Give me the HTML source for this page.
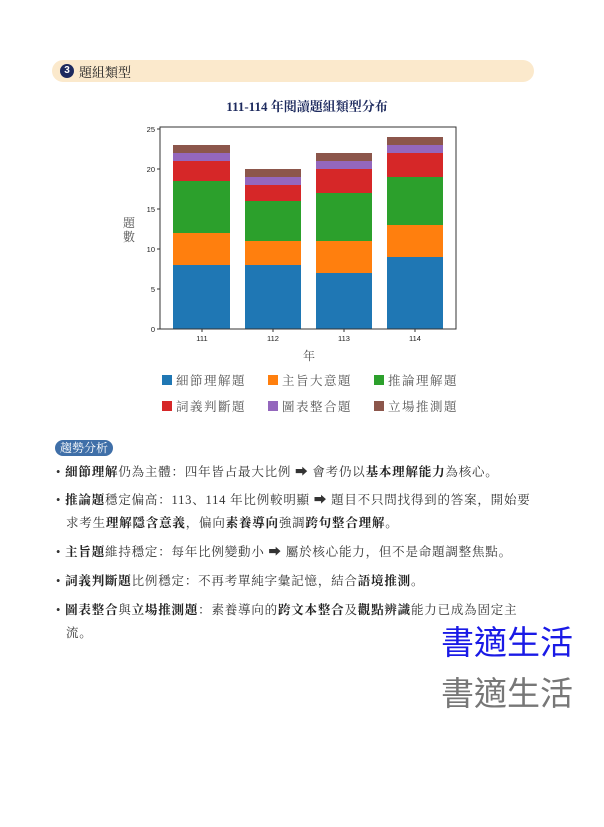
<!DOCTYPE html>
<html><head><meta charset="utf-8"><style>
body{margin:0;width:604px;height:827px;background:#fff;position:relative;overflow:hidden;font-family:"Liberation Serif","Noto Serif CJK SC","Noto Sans CJK TC",serif;}
.hdr{position:absolute;left:52px;top:60px;width:482px;height:22px;background:#fbe9cc;border-radius:11px;}
.num{position:absolute;left:60px;top:64px;width:14px;height:14px;border-radius:50%;background:#1d2a5e;color:#fff;font:bold 10px "Liberation Sans",sans-serif;text-align:center;line-height:14px;}
.ht{position:absolute;left:79px;top:62px;font-size:13px;color:#222;}
.tag{position:absolute;left:55px;top:440px;width:58px;height:16px;background:#3f6fa8;border-radius:8px;color:#fff;font-size:12px;text-align:center;line-height:16px;}
.ln{position:absolute;left:56px;font-size:12.5px;color:#333;white-space:nowrap;letter-spacing:0.8px}
.ln b{color:#222}
.wm{position:absolute;left:441px;font-size:33px;font-family:"Liberation Sans","Noto Sans CJK TC",sans-serif;}
</style></head><body>
<div class="hdr"></div><div class="num">3</div><div class="ht">題組類型</div>
<svg width="604" height="430" style="position:absolute;left:0;top:0" font-family="Liberation Sans, DejaVu Sans, sans-serif">
<text x="307" y="111" text-anchor="middle" font-size="13" font-weight="bold" fill="#1d2a5e" font-family="Liberation Serif, Noto Serif CJK SC, serif">111-114 年閱讀題組類型分布</text>
<g>
<rect x="173" y="265" width="57" height="64" fill="#1f77b4"/><rect x="173" y="233" width="57" height="32" fill="#ff7f0e"/><rect x="173" y="181" width="57" height="52" fill="#2ca02c"/><rect x="173" y="161" width="57" height="20" fill="#d62728"/><rect x="173" y="153" width="57" height="8" fill="#9467bd"/><rect x="173" y="145" width="57" height="8" fill="#8c564b"/>
<rect x="245" y="265" width="56" height="64" fill="#1f77b4"/><rect x="245" y="241" width="56" height="24" fill="#ff7f0e"/><rect x="245" y="201" width="56" height="40" fill="#2ca02c"/><rect x="245" y="185" width="56" height="16" fill="#d62728"/><rect x="245" y="177" width="56" height="8" fill="#9467bd"/><rect x="245" y="169" width="56" height="8" fill="#8c564b"/>
<rect x="316" y="273" width="56" height="56" fill="#1f77b4"/><rect x="316" y="241" width="56" height="32" fill="#ff7f0e"/><rect x="316" y="193" width="56" height="48" fill="#2ca02c"/><rect x="316" y="169" width="56" height="24" fill="#d62728"/><rect x="316" y="161" width="56" height="8" fill="#9467bd"/><rect x="316" y="153" width="56" height="8" fill="#8c564b"/>
<rect x="387" y="257" width="56" height="72" fill="#1f77b4"/><rect x="387" y="225" width="56" height="32" fill="#ff7f0e"/><rect x="387" y="177" width="56" height="48" fill="#2ca02c"/><rect x="387" y="153" width="56" height="24" fill="#d62728"/><rect x="387" y="145" width="56" height="8" fill="#9467bd"/><rect x="387" y="137" width="56" height="8" fill="#8c564b"/>
</g>
<rect x="160" y="127" width="296" height="202" fill="none" stroke="#333" stroke-width="1"/>
<g stroke="#333"><line x1="157" x2="160" y1="329" y2="329"/><line x1="157" x2="160" y1="289" y2="289"/><line x1="157" x2="160" y1="249" y2="249"/><line x1="157" x2="160" y1="209" y2="209"/><line x1="157" x2="160" y1="169" y2="169"/><line x1="157" x2="160" y1="129" y2="129"/>
<line x1="202" x2="202" y1="329" y2="332"/><line x1="273" x2="273" y1="329" y2="332"/><line x1="344" x2="344" y1="329" y2="332"/><line x1="415" x2="415" y1="329" y2="332"/></g>
<g font-size="7.5" fill="#222" text-anchor="end"><text x="155" y="332">0</text><text x="155" y="292">5</text><text x="155" y="252">10</text><text x="155" y="212">15</text><text x="155" y="172">20</text><text x="155" y="132">25</text></g>
<g font-size="7.5" fill="#222" text-anchor="middle"><text x="202" y="341">111</text><text x="273" y="341">112</text><text x="344" y="341">113</text><text x="415" y="341">114</text></g>
<g font-size="12" fill="#555" font-family="Liberation Serif, Noto Serif CJK SC, serif"><text x="129" y="227" text-anchor="middle">題</text><text x="129" y="241" text-anchor="middle">數</text><text x="309" y="360" text-anchor="middle">年</text></g>
<g font-size="12.5" fill="#555" font-family="Liberation Serif, Noto Serif CJK SC, serif" letter-spacing="1.5">
<rect x="162" y="375" width="10" height="10" fill="#1f77b4"/><text x="176" y="385">細節理解題</text>
<rect x="268" y="375" width="10" height="10" fill="#ff7f0e"/><text x="282" y="385">主旨大意題</text>
<rect x="374" y="375" width="10" height="10" fill="#2ca02c"/><text x="388" y="385">推論理解題</text>
<rect x="162" y="401" width="10" height="10" fill="#d62728"/><text x="176" y="411">詞義判斷題</text>
<rect x="268" y="401" width="10" height="10" fill="#9467bd"/><text x="282" y="411">圖表整合題</text>
<rect x="374" y="401" width="10" height="10" fill="#8c564b"/><text x="388" y="411">立場推測題</text>
</g>
</svg>
<div class="tag">趨勢分析</div>
<div class="ln" style="top:462px">• <b>細節理解</b>仍為主體：四年皆占最大比例 ➡ 會考仍以<b>基本理解能力</b>為核心。</div>
<div class="ln" style="top:490px">• <b>推論題</b>穩定偏高：113、114 年比例較明顯 ➡ 題目不只問找得到的答案，開始要</div>
<div class="ln" style="top:513px;left:66px">求考生<b>理解隱含意義</b>，偏向<b>素養導向</b>強調<b>跨句整合理解</b>。</div>
<div class="ln" style="top:542px">• <b>主旨題</b>維持穩定：每年比例變動小 ➡ 屬於核心能力，但不是命題調整焦點。</div>
<div class="ln" style="top:571px">• <b>詞義判斷題</b>比例穩定：不再考單純字彙記憶，結合<b>語境推測</b>。</div>
<div class="ln" style="top:600px">• <b>圖表整合</b>與<b>立場推測題</b>：素養導向的<b>跨文本整合</b>及<b>觀點辨識</b>能力已成為固定主</div>
<div class="ln" style="top:623px;left:66px">流。</div>
<div class="wm" style="top:616px;color:#1a1ae6">書適生活</div>
<div class="wm" style="top:667px;color:#777">書適生活</div>
</body></html>
